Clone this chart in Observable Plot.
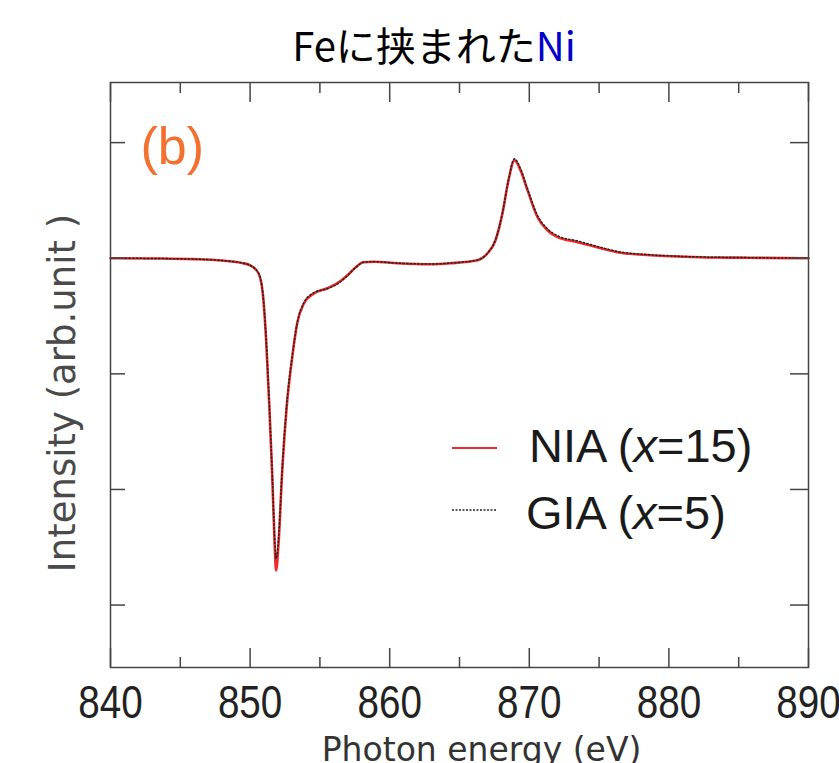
<!DOCTYPE html>
<html>
<head>
<meta charset="utf-8">
<script src="https://cdn.jsdelivr.net/npm/d3@7"></script>
<script src="https://cdn.jsdelivr.net/npm/@observablehq/plot@0.6"></script>
<style>
  html, body { margin: 0; padding: 0; background: #fff; }
  body { width: 839px; height: 763px; position: relative; overflow: hidden; }
  #title { position: absolute; top: 22px; left: 434px; transform: translateX(-50%); white-space: nowrap;
           font-family: "Noto Sans CJK JP", sans-serif; font-size: 40px; line-height: 44px; color: #000; }
  #title .ni { color: #0000cc; }
  #chart { position: absolute; top: 78px; left: 0; }
  .leg { position: absolute; font-family: "Liberation Sans", Arial, sans-serif; font-size: 47px; color: #1a1a1a; white-space: nowrap; line-height: 46px; }
  .sw { position: absolute; }
</style>
</head>
<body>
<div id="title">Feに挟まれた<span class="ni">Ni</span></div>
<div id="chart"></div>
<svg class="sw" style="left:450px;top:440px" width="50" height="16"><line x1="2" x2="47" y1="8" y2="8" stroke="#ee2a2a" stroke-width="1.8"/></svg>
<svg class="sw" style="left:450px;top:502px" width="50" height="16"><line x1="2" x2="47" y1="8" y2="8" stroke="#222" stroke-width="1.3" stroke-dasharray="2,1.5"/></svg>
<div class="leg" style="left:529px;top:423px">NIA (<i>x</i>=15)</div>
<div class="leg" style="left:526px;top:490px">GIA (<i>x</i>=5)</div>
<script>
// Photon energy (eV)
const energy = [840.0, 843.0, 846.0, 848.0, 849.5, 850.0, 850.6, 850.91, 851.15, 851.38, 851.58, 851.75, 851.86,
  852.05, 852.29, 852.62, 853.02, 853.37, 853.85, 854.54, 855.54, 856.26, 856.98, 857.55, 858.12, 858.84,
  860.56, 862.92, 864.36, 866.29, 867.01, 867.58, 868.08, 868.51, 868.94, 869.37, 869.87, 870.59, 871.30,
  872.02, 873.45, 875.10, 876.32, 878.68, 882.26, 885.8, 890.0];
// NIA (x=15), red solid
const nia = [0.000, -0.002, -0.008, -0.020, -0.043, -0.061, -0.130, -0.305, -0.710, -1.287, -1.865, -2.442, -2.701,
  -2.442, -1.865, -1.287, -0.855, -0.565, -0.392, -0.307, -0.260, -0.216, -0.147, -0.080, -0.035, -0.030,
  -0.043, -0.052, -0.043, -0.017, 0.043, 0.156, 0.390, 0.675, 0.848, 0.762, 0.589, 0.355, 0.242,
  0.182, 0.139, 0.087, 0.052, 0.026, 0.009, 0.004, 0.000];
// GIA (x=5), black dotted
const gia = [0.000, -0.002, -0.008, -0.020, -0.043, -0.061, -0.128, -0.300, -0.700, -1.270, -1.840, -2.400, -2.600,
  -2.400, -1.840, -1.270, -0.845, -0.560, -0.385, -0.300, -0.262, -0.222, -0.150, -0.082, -0.035, -0.030,
  -0.043, -0.050, -0.042, -0.015, 0.045, 0.160, 0.395, 0.680, 0.860, 0.775, 0.600, 0.368, 0.255,
  0.195, 0.150, 0.095, 0.058, 0.030, 0.011, 0.005, 0.000];
const xMajor = [840, 850, 860, 870, 880, 890];
const xMinor = [845, 855, 865, 875, 885];
const yTicks = [1, 0, -1, -2, -3];
const xDomain = [840, 890];
const yDomain = [-3.54, 1.52];

const W = 839, H = 685, mt = 4, mb = 96, ml = 110, mr = 31;
const ph = H - mt - mb, pw = W - ml - mr;
const niaData = energy.map((e, i) => ({e, v: nia[i]}));
const giaData = energy.map((e, i) => ({e, v: gia[i]}));
const tc = "#444";

const chart = Plot.plot({
  width: W, height: H,
  marginTop: mt, marginBottom: mb, marginLeft: ml, marginRight: mr,
  x: {domain: xDomain},
  y: {domain: yDomain, axis: null},
  style: {background: "#fff", overflow: "visible"},
  marks: [
    Plot.line(niaData, {x: "e", y: "v", stroke: "#ee2a2a", strokeWidth: 2.6, curve: "monotone-x"}),
    Plot.line(giaData, {x: "e", y: "v", stroke: "#222", strokeWidth: 1.5, strokeDasharray: "1.3,2.4", curve: "monotone-x"}),
    Plot.frame({stroke: tc, strokeWidth: 1.5}),
    // bottom ticks
    Plot.tickX(xMajor, {x: d => d, insetTop: ph - 19, stroke: tc, strokeWidth: 1.5}),
    Plot.tickX(xMinor, {x: d => d, insetTop: ph - 10, stroke: tc, strokeWidth: 1.5}),
    // top ticks
    Plot.tickX(xMajor, {x: d => d, insetBottom: ph - 20, stroke: tc, strokeWidth: 1.5}),
    Plot.tickX(xMinor, {x: d => d, insetBottom: ph - 11, stroke: tc, strokeWidth: 1.5}),
    // left / right ticks
    Plot.tickY(yTicks, {y: d => d, insetRight: pw - 15, stroke: tc, strokeWidth: 1.5}),
    Plot.tickY(yTicks, {y: d => d, insetLeft: pw - 18, stroke: tc, strokeWidth: 1.5}),
    Plot.axisX({ticks: xMajor, tickSize: 0, tickPadding: 18, label: null, fontSize: 46,
      fontFamily: "Liberation Sans, Arial, sans-serif", fill: "#222", tickFormat: d => String(d)}),
    Plot.text(["Intensity (arb.unit )"], {frameAnchor: "left", rotate: -90, dx: -47, dy: 18,
      fontSize: 37, fontFamily: "DejaVu Sans, sans-serif", fill: "#4a4a4a", textAnchor: "middle", lineAnchor: "middle"}),
    Plot.text(["Photon energy (eV)"], {frameAnchor: "bottom", dx: 22, dy: 83,
      fontSize: 33, fontFamily: "DejaVu Sans, sans-serif", fill: "#333", textAnchor: "middle", lineAnchor: "middle"}),
    Plot.text(["(b)"], {frameAnchor: "top-left", dx: 30, dy: 65, fontSize: 52,
      fontFamily: "Liberation Sans, Arial, sans-serif", fill: "#f4702e", textAnchor: "start", lineAnchor: "middle"})
  ]
});
document.getElementById("chart").appendChild(chart);
chart.querySelectorAll('[aria-label="x-axis tick label"] text').forEach(t => {
  const tr = t.getAttribute("transform") || "";
  t.setAttribute("transform", tr + " scale(0.84,1)");
});
</script>
</body>
</html>
